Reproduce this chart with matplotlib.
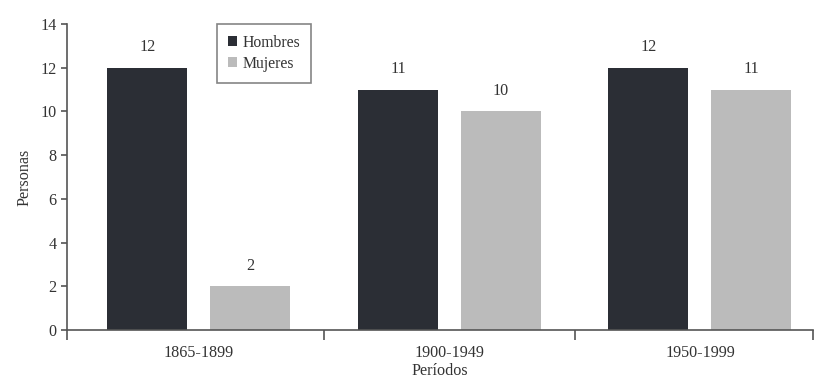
import numpy as np
import matplotlib.pyplot as plt

# Datos
periodos = ["1865-1899", "1900-1949", "1950-1999"]
hombres = [12, 11, 12]
mujeres = [2, 10, 11]

plt.rcParams['font.family'] = ['Liberation Serif', 'DejaVu Serif']
texto = '#333333'
oscuro = '#2b2e35'
claro = '#bbbbbb'
fs = 11.6

fig = plt.figure(figsize=(8.35, 3.8), dpi=100)
ax = fig.add_axes([67/835, 1 - 330/380, (813 - 67)/835, (330 - 24)/380])

x = np.arange(len(periodos))
ancho = 0.32
b1 = ax.bar(x - 0.206, hombres, ancho, color=oscuro, label='Hombres')
b2 = ax.bar(x + 0.204, mujeres, ancho, color=claro, label='Mujeres')

for barras in (b1, b2):
    for r in barras:
        ax.annotate(f"{int(r.get_height())}",
                    (r.get_x() + r.get_width()/2, r.get_height()),
                    xytext=(0, 9), textcoords='offset points',
                    ha='center', va='bottom', fontsize=fs, color=texto)

ax.set_xlim(-0.527, 2.451)
ax.set_ylim(0, 14)
ax.set_yticks(range(0, 15, 2))
ax.set_xticks(x)
ax.set_xticklabels(periodos)
ax.set_xticks([-0.527, 0.5, 1.5, 2.451], minor=True)
ax.tick_params(axis='x', which='major', length=0, pad=11, labelsize=fs, labelcolor=texto)
ax.tick_params(axis='x', which='minor', length=7, width=1.2, color='#555555')
ax.tick_params(axis='y', length=4, width=1.2, color='#555555', labelsize=fs, labelcolor=texto)

for s in ('top', 'right'):
    ax.spines[s].set_visible(False)
for s in ('left', 'bottom'):
    ax.spines[s].set_color('#555555')
    ax.spines[s].set_linewidth(1.2)

ax.set_xlabel("Períodos", fontsize=fs, color=texto, labelpad=1)
ax.set_ylabel("Personas", fontsize=fs, color=texto, labelpad=6)

leg = ax.legend(loc='upper left', bbox_to_anchor=(217/835, 1 - 24/380),
                bbox_transform=fig.transFigure, fancybox=False,
                edgecolor='#666666', fontsize=11.3, handlelength=0.6,
                handleheight=0.6, handletextpad=0.3, borderpad=0.7,
                labelspacing=0.3, borderaxespad=0)
for t in leg.get_texts():
    t.set_color(texto)
leg.get_frame().set_linewidth(1.2)

fig.savefig("out.png", dpi=100)
